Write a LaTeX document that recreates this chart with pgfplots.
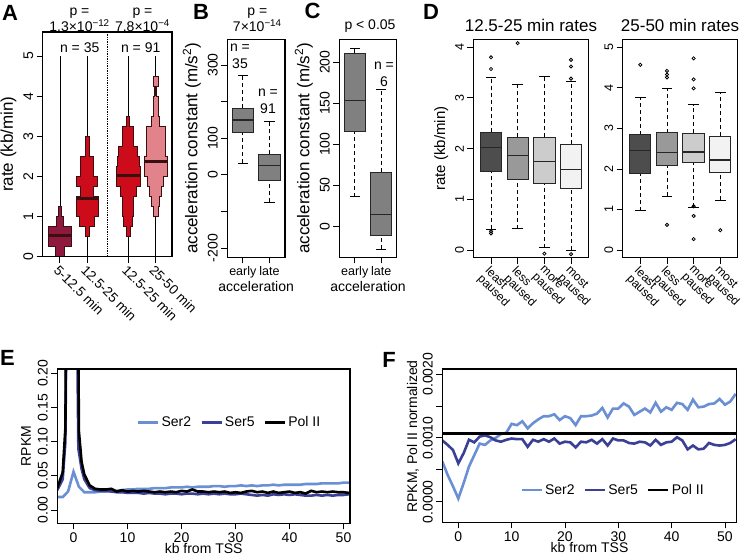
\documentclass[border=0pt]{standalone}
\usepackage{fontspec}
\setmainfont{Liberation Sans}
\usepackage{pgfplots}
\pgfplotsset{compat=1.18}

\definecolor{beanmaroon}{HTML}{8E183E}
\definecolor{beanred}{HTML}{CC0C1A}
\definecolor{beanpink}{HTML}{E2838B}
\definecolor{beanedge}{HTML}{3A0F10}
\definecolor{boxgray}{HTML}{808080}
\definecolor{pauseA}{HTML}{4D4D4D}
\definecolor{pauseB}{HTML}{999999}
\definecolor{pauseC}{HTML}{CCCCCC}
\definecolor{pauseD}{HTML}{F2F2F2}
\definecolor{sertwo}{HTML}{6A8FD4}
\definecolor{serfive}{HTML}{3B3F96}

\newcommand{\fs}[1]{\fontsize{#1}{#1}\selectfont}

\pgfplotsset{
  rplot/.style={
    scale only axis, axis on top,
    axis line style={line width=1.1pt},
    tick style={line width=0.9pt, black},
    tick align=outside, major tick length=6pt,
    xtick pos=left, ytick pos=left,
    /pgf/number format/assume math mode=true,
    ticklabel style={font=\fs{14}},
    yticklabel style={rotate=90, anchor=south},
    label style={font=\fs{16}},
  },
}

% R style box: centre, box left, box right, lower whisker, lower hinge, median, upper hinge, upper whisker, fill
\newcommand{\rbox}[9]{%
  \addplot[black, line width=0.9pt, dash pattern=on 4pt off 3pt] coordinates {(#1,#4) (#1,#5)};
  \addplot[black, line width=0.9pt, dash pattern=on 4pt off 3pt] coordinates {(#1,#7) (#1,#8)};
  \addplot[only marks, mark=-, mark size=5.2pt, mark options={solid, line width=0.9pt, black}] coordinates {(#1,#4) (#1,#8)};
  \addplot[fill=#9, draw=black!85, line width=1pt] coordinates {(#2,#5) (#3,#5) (#3,#7) (#2,#7)} -- cycle;
  \addplot[black!85, line width=1.2pt] coordinates {(#2,#6) (#3,#6)};
}

\begin{document}
\begin{tikzpicture}
\useasboundingbox (0,0) rectangle (751pt,-558pt);

%% ---------- A ----------
\begin{axis}[rplot, at={(42.7pt,-32pt)}, anchor=north west,
  width=129.3pt, height=224.5pt,
  xmin=0.37, xmax=5.1, ymin=0, ymax=5.6,
  xtick={1,2,3.5,4.5},
  xticklabels={5-12.5 min,12.5-25 min,12.5-25 min,25-50 min},
  xticklabel style={rotate=-45, anchor=north west, inner sep=1pt, font=\fs{13.5}},
  ytick={0,1,2,3,4,5},
  ylabel={rate (kb/min)}, ylabel style={font=\fs{17}}]
\addplot[black, line width=0.8pt] coordinates {(1,0) (1,5)};
\addplot[black, line width=0.8pt] coordinates {(2,0) (2,5)};
\addplot[black, line width=0.8pt] coordinates {(3.5,0) (3.5,5)};
\addplot[black, line width=0.8pt] coordinates {(4.5,0) (4.5,5)};
\addplot[black, densely dotted, line width=1.4pt] coordinates {(2.75,0) (2.75,5.6)};
% 5-12.5 min
\addplot[fill=beanmaroon, draw=beanedge, line width=1pt] coordinates {
 (1.18,0) (1.18,0.25) (1.42,0.25) (1.42,0.75) (1.14,0.75) (1.14,1.0) (1.06,1.0) (1.06,1.25)
 (0.94,1.25) (0.94,1.0) (0.86,1.0) (0.86,0.75) (0.58,0.75) (0.58,0.25) (0.82,0.25) (0.82,0)} -- cycle;
\addplot[beanedge, line width=3pt] coordinates {(0.58,0.52) (1.42,0.52)};
% 12.5-25 min (early)
\addplot[fill=beanred, draw=beanedge, line width=1pt] coordinates {
 (2.08,0.5) (2.08,0.75) (2.27,0.75) (2.27,1.0) (2.40,1.0) (2.40,1.5) (2.24,1.5) (2.24,1.75)
 (2.38,1.75) (2.38,2.0) (2.24,2.0) (2.24,2.5) (2.08,2.5) (2.08,3.0)
 (1.92,3.0) (1.92,2.5) (1.76,2.5) (1.76,2.0) (1.62,2.0) (1.62,1.75) (1.76,1.75) (1.76,1.5)
 (1.60,1.5) (1.60,1.0) (1.73,1.0) (1.73,0.75) (1.92,0.75) (1.92,0.5)} -- cycle;
\addplot[beanedge, line width=3pt] coordinates {(1.60,1.44) (2.40,1.44)};
% 12.5-25 min (late)
\addplot[fill=beanred, draw=beanedge, line width=1pt] coordinates {
 (3.57,0.5) (3.57,0.75) (3.66,0.75) (3.66,1.0) (3.70,1.0) (3.70,1.5) (3.80,1.5) (3.80,1.75)
 (3.94,1.75) (3.94,2.25) (3.90,2.25) (3.90,2.5) (3.84,2.5) (3.84,2.75) (3.70,2.75) (3.70,3.25)
 (3.56,3.25) (3.56,3.5)
 (3.44,3.5) (3.44,3.25) (3.30,3.25) (3.30,2.75) (3.16,2.75) (3.16,2.5) (3.10,2.5) (3.10,2.25)
 (3.06,2.25) (3.06,1.75) (3.20,1.75) (3.20,1.5) (3.30,1.5) (3.30,1.0) (3.34,1.0) (3.34,0.75)
 (3.43,0.75) (3.43,0.5)} -- cycle;
\addplot[beanedge, line width=3pt] coordinates {(3.06,2.02) (3.94,2.02)};
% 25-50 min
\addplot[fill=beanpink, draw=beanedge, line width=1pt] coordinates {
 (4.59,1.0) (4.59,1.25) (4.65,1.25) (4.65,1.5) (4.71,1.5) (4.71,1.75) (4.80,1.75) (4.80,2.0)
 (4.92,2.0) (4.92,2.5) (4.85,2.5) (4.85,3.25) (4.65,3.25) (4.65,3.5) (4.59,3.5) (4.59,4.0)
 (4.54,4.0) (4.54,4.25) (4.59,4.25) (4.59,4.5)
 (4.41,4.5) (4.41,4.25) (4.46,4.25) (4.46,4.0) (4.41,4.0) (4.41,3.5) (4.35,3.5) (4.35,3.25)
 (4.15,3.25) (4.15,2.5) (4.08,2.5) (4.08,2.0) (4.20,2.0) (4.20,1.75) (4.29,1.75) (4.29,1.5)
 (4.35,1.5) (4.35,1.25) (4.41,1.25) (4.41,1.0)} -- cycle;
\addplot[beanedge, line width=3pt] coordinates {(4.08,2.36) (4.92,2.36)};
\addplot[beanedge, line width=3pt] coordinates {(4.5,4.0) (4.5,4.25)};
\end{axis}

%% ---------- B ----------
\begin{axis}[rplot, at={(227.3pt,-39.3pt)}, anchor=north west,
  width=57.7pt, height=218pt,
  xmin=0.42, xmax=2.58, ymin=-225, ymax=370,
  xtick={1,2}, xticklabels={early,late}, xticklabel style={font=\fs{12.5}},
  ytick={-200,-100,0,100,200,300}, yticklabels={-200,,0,100,,300},
  xlabel={acceleration}, xlabel style={font=\fs{14}, yshift=4pt},
  ylabel={acceleration constant (m/s\textsuperscript{2})}, ylabel style={font=\fs{17}}]
\rbox{1}{0.6}{1.4}{32}{115}{150}{182}{270}{boxgray}
\rbox{2}{1.6}{2.4}{-75}{-15}{26}{56}{145}{boxgray}
\end{axis}

%% ---------- C ----------
\begin{axis}[rplot, at={(339.3pt,-39.3pt)}, anchor=north west,
  width=57.4pt, height=218pt,
  xmin=0.42, xmax=2.58, ymin=-38, ymax=228,
  xtick={1,2}, xticklabels={early,late}, xticklabel style={font=\fs{12.5}},
  ytick={0,50,100,150,200},
  xlabel={acceleration}, xlabel style={font=\fs{14}, yshift=4pt},
  ylabel={acceleration constant (m/s\textsuperscript{2})}, ylabel style={font=\fs{17}}]
\rbox{1}{0.6}{1.4}{36}{116}{153}{211}{217}{boxgray}
\rbox{2}{1.6}{2.4}{-28}{-11}{14}{66}{167}{boxgray}
\end{axis}

%% ---------- D, 12.5-25 min ----------
\begin{axis}[rplot, at={(473.4pt,-39.3pt)}, anchor=north west,
  width=115.2pt, height=218.4pt,
  xmin=0.34, xmax=4.66, ymin=-0.15, ymax=4.155,
  ticklabel style={font=\fs{12.5}},
  xtick={1,2,3,4},
  xticklabels={{least\\paused},{less\\paused},{more\\paused},{most\\paused}},
  xticklabel style={rotate=-45, anchor=north west, align=left, inner sep=1pt,
    font=\fontsize{12}{11}\selectfont},
  ytick={0,1,2,3,4},
  ylabel={rate (kb/min)}, ylabel style={font=\fs{15}}]
\rbox{1}{0.6}{1.4}{0.41}{1.55}{2.03}{2.32}{3.40}{pauseA}
\rbox{2}{1.6}{2.4}{0.42}{1.40}{1.87}{2.22}{3.27}{pauseB}
\rbox{3}{2.6}{3.4}{0.05}{1.32}{1.74}{2.22}{3.42}{pauseC}
\rbox{4}{3.6}{4.4}{0.00}{1.22}{1.59}{2.09}{3.33}{pauseD}
\addplot[only marks, mark=o, mark size=1.6pt, mark options={line width=0.8pt, black}] coordinates {
 (1,3.80) (1,3.57) (1,0.33) (1,0.37) (2,4.08) (3,-0.07) (4,3.75) (4,3.62) (4,3.38) (4,-0.08)};
\end{axis}

%% ---------- D, 25-50 min ----------
\begin{axis}[rplot, at={(622.7pt,-39.3pt)}, anchor=north west,
  width=115.2pt, height=218.4pt,
  xmin=0.34, xmax=4.66, ymin=-0.19, ymax=5.2,
  ticklabel style={font=\fs{12.5}},
  xtick={1,2,3,4},
  xticklabels={{least\\paused},{less\\paused},{more\\paused},{most\\paused}},
  xticklabel style={rotate=-45, anchor=north west, align=left, inner sep=1pt,
    font=\fontsize{12}{11}\selectfont},
  ytick={0,1,2,3,4,5}]
\rbox{1}{0.6}{1.4}{0.97}{1.89}{2.46}{2.85}{3.76}{pauseA}
\rbox{2}{1.6}{2.4}{1.33}{2.08}{2.40}{2.90}{3.99}{pauseB}
\rbox{3}{2.6}{3.4}{1.05}{2.15}{2.42}{2.88}{3.58}{pauseC}
\rbox{4}{3.6}{4.4}{1.23}{1.91}{2.22}{2.81}{3.90}{pauseD}
\addplot[only marks, mark=o, mark size=1.6pt, mark options={line width=0.8pt, black}] coordinates {
 (1,4.57) (2,4.42) (2,4.33) (2,4.26) (2,0.62) (3,4.73) (3,4.21) (3,3.99) (3,1.08) (3,0.84) (3,0.27) (4,0.49)};
\end{axis}

%% ---------- E ----------
\begin{axis}[rplot, at={(57.3pt,-369pt)}, anchor=north west,
  width=292.7pt, height=154.3pt,
  xmin=-3, xmax=51.2, ymin=-0.0195, ymax=0.2063,
  xtick={0,10,20,30,40,50},
  ytick={0,0.05,0.1,0.15,0.2}, yticklabels={0.00,0.05,0.10,0.15,0.20},
  scaled y ticks=false,
  xlabel={kb from TSS}, xlabel style={font=\fs{14}, yshift=6pt},
  ylabel={RPKM}, ylabel style={font=\fs{14}},
  legend style={draw=none, fill=none, at={(0.271,0.655)}, anchor=west, legend columns=3,
    font=\fs{14}, inner sep=0pt, /tikz/every even column/.append style={column sep=7pt}},
  legend image code/.code={\draw[#1, line width=2.8pt] (0pt,0pt) -- (20pt,0pt);}]
\addplot[sertwo, line width=2.6pt] coordinates {
 (-3,0.019) (-2,0.019) (-1,0.027) (0,0.056) (1,0.034) (2,0.026) (3,0.026) (4,0.026) (5,0.027)
 (6,0.027) (7,0.028) (8,0.028) (9,0.029) (10,0.030) (11,0.030) (12,0.031) (13,0.031) (14,0.031)
 (15,0.032) (16,0.032) (17,0.032) (18,0.033) (19,0.033) (20,0.033) (21,0.034) (22,0.033) (23,0.034)
 (24,0.034) (25,0.034) (26,0.035) (27,0.035) (28,0.034) (29,0.035) (30,0.035) (31,0.036) (32,0.035)
 (33,0.036) (34,0.035) (35,0.036) (36,0.036) (37,0.037) (38,0.036) (39,0.037) (40,0.037) (41,0.037)
 (42,0.037) (43,0.038) (44,0.038) (45,0.038) (46,0.039) (47,0.039) (48,0.039) (49,0.039) (50,0.040)
 (51,0.040)};
\addlegendentry{Ser2}
\addplot[serfive, line width=2.6pt] coordinates {
 (-3,0.029) (-2,0.045) (-1.5,0.10) (-1.2,0.40) (0.5,0.40) (0.9,0.09) (1.5,0.06) (2,0.045) (3,0.032)
 (4,0.029) (5,0.028) (6,0.028) (7,0.027) (8,0.026) (9,0.026) (10,0.025) (11,0.025) (12,0.025)
 (13,0.024) (14,0.025) (15,0.024) (16,0.024) (17,0.023) (18,0.024) (19,0.024) (20,0.023) (21,0.024)
 (22,0.024) (23,0.023) (24,0.024) (25,0.023) (26,0.024) (27,0.023) (28,0.024) (29,0.023) (30,0.023)
 (31,0.024) (32,0.023) (33,0.022) (34,0.021) (35,0.022) (36,0.021) (37,0.023) (38,0.022) (39,0.023)
 (40,0.022) (41,0.023) (42,0.022) (43,0.021) (44,0.021) (45,0.022) (46,0.021) (47,0.022) (48,0.021)
 (49,0.022) (50,0.022) (51,0.023)};
\addlegendentry{Ser5}
\addplot[black, line width=2.6pt] coordinates {
 (-3,0.032) (-2,0.055) (-1.5,0.12) (-1.2,0.50) (0.7,0.50) (1,0.115) (1.5,0.07) (2,0.052) (3,0.036)
 (4,0.031) (5,0.030) (6,0.030) (7,0.031) (8,0.027) (9,0.029) (10,0.027) (11,0.028) (12,0.027)
 (13,0.028) (14,0.027) (15,0.026) (16,0.027) (17,0.026) (18,0.027) (19,0.026) (20,0.028) (21,0.027)
 (22,0.030) (23,0.027) (24,0.027) (25,0.026) (26,0.027) (27,0.026) (28,0.027) (29,0.025) (30,0.026)
 (31,0.025) (32,0.027) (33,0.028) (34,0.026) (35,0.027) (36,0.025) (37,0.027) (38,0.025) (39,0.026)
 (40,0.027) (41,0.025) (42,0.026) (43,0.024) (44,0.028) (45,0.026) (46,0.027) (47,0.026) (48,0.027)
 (49,0.026) (50,0.026) (51,0.025)};
\addlegendentry{Pol II}
\end{axis}

%% ---------- F ----------
\begin{axis}[rplot, at={(442.3pt,-369pt)}, anchor=north west,
  width=294.4pt, height=153.3pt,
  xmin=-3, xmax=52.2, ymin=-0.000324, ymax=0.00208,
  xtick={0,10,20,30,40,50},
  ytick={0,0.0005,0.001,0.0015,0.002}, yticklabels={0.0000,,0.0010,,0.0020},
  scaled y ticks=false,
  xlabel={kb from TSS}, xlabel style={font=\fs{14}, yshift=6pt},
  ylabel={RPKM, Pol II normalized},
  ylabel style={font=\fs{14}, at={(axis description cs:-0.1,0.56)}, anchor=center},
  legend style={draw=none, fill=none, at={(0.264,0.211)}, anchor=west, legend columns=3,
    font=\fs{14}, inner sep=0pt, /tikz/every even column/.append style={column sep=7pt}},
  legend image code/.code={\draw[#1, line width=2.8pt] (0pt,0pt) -- (20pt,0pt);}]
\addplot[sertwo, line width=2.6pt] coordinates {
 (-3,0.00063) (-2,0.00042) (-1,0.00024) (0,0.00005) (1,0.00029) (2,0.00055) (3,0.00073) (4,0.00091)
 (5,0.00089) (6,0.00096) (7,0.00100) (8,0.00106) (9,0.00108) (10,0.00122) (11,0.00120) (12,0.00126)
 (13,0.00115) (14,0.00123) (15,0.00129) (16,0.00134) (17,0.00134) (18,0.00137) (19,0.00128) (20,0.00134)
 (21,0.00131) (22,0.00120) (23,0.00134) (24,0.00134) (25,0.00135) (26,0.00138) (27,0.00147) (28,0.00132)
 (29,0.00146) (30,0.00146) (31,0.00154) (32,0.00149) (33,0.00136) (34,0.00141) (35,0.00146) (36,0.00140)
 (37,0.00155) (38,0.00141) (39,0.00148) (40,0.00144) (41,0.00155) (42,0.00153) (43,0.00144) (44,0.00160)
 (45,0.00148) (46,0.00149) (47,0.00153) (48,0.00154) (49,0.00161) (50,0.00152) (51,0.00157) (52,0.00169)};
\addlegendentry{Ser2}
\addplot[serfive, line width=2.6pt] coordinates {
 (-3,0.00096) (-2,0.00089) (-1,0.00081) (0,0.00060) (1,0.00076) (2,0.00097) (3,0.00093) (4,0.00102)
 (5,0.00104) (6,0.00101) (7,0.00096) (8,0.00094) (9,0.00097) (10,0.00099) (11,0.00098) (12,0.00098)
 (13,0.00086) (14,0.00097) (15,0.00094) (16,0.00098) (17,0.00094) (18,0.00099) (19,0.00091) (20,0.00094)
 (21,0.00093) (22,0.00085) (23,0.00094) (24,0.00093) (25,0.00097) (26,0.00091) (27,0.00098) (28,0.00088)
 (29,0.00099) (30,0.00096) (31,0.00096) (32,0.00092) (33,0.00091) (34,0.00094) (35,0.00093) (36,0.00088)
 (37,0.00097) (38,0.00089) (39,0.00093) (40,0.00094) (41,0.00101) (42,0.00096) (43,0.00082) (44,0.00088)
 (45,0.00082) (46,0.00083) (47,0.00092) (48,0.00089) (49,0.00088) (50,0.00089) (51,0.00092) (52,0.00098)};
\addlegendentry{Ser5}
\addplot[black, line width=2.6pt] coordinates {(-3,0.00107) (52.2,0.00107)};
\addlegendentry{Pol II}
\end{axis}

%% ---------- panel letters and annotations ----------
\begin{scope}[every node/.style={font=\fs{22}\bfseries}]
\node at (10pt,-12.5pt) {A};
\node at (201pt,-12pt) {B};
\node at (312.5pt,-11pt) {C};
\node at (431pt,-12pt) {D};
\node at (7.5pt,-358pt) {E};
\node at (389pt,-360pt) {F};
\end{scope}
\begin{scope}[every node/.style={font=\fontsize{14}{14.5}\selectfont, align=center}]
\node at (79.5pt,-19.6pt) {p =\\1.3×10\textsuperscript{−12}};
\node at (142.5pt,-19.6pt) {p =\\7.8×10\textsuperscript{−4}};
\node at (79.7pt,-48pt) {n = 35};
\node at (140.7pt,-48pt) {n = 91};
\node at (257.3pt,-19.6pt) {p =\\7×10\textsuperscript{−14}};
\node at (370pt,-25.7pt) {p < 0.05};
\end{scope}
\begin{scope}[every node/.style={font=\fontsize{14}{17}\selectfont, align=center}]
\node at (240pt,-56.5pt) {n =\\35};
\node at (268pt,-101pt) {n =\\91};
\node at (384pt,-74pt) {n =\\6};
\end{scope}
\node[font=\fs{17}] at (531pt,-25pt) {12.5-25 min rates};
\node[font=\fs{17}] at (680pt,-25pt) {25-50 min rates};
\end{tikzpicture}
\end{document}
